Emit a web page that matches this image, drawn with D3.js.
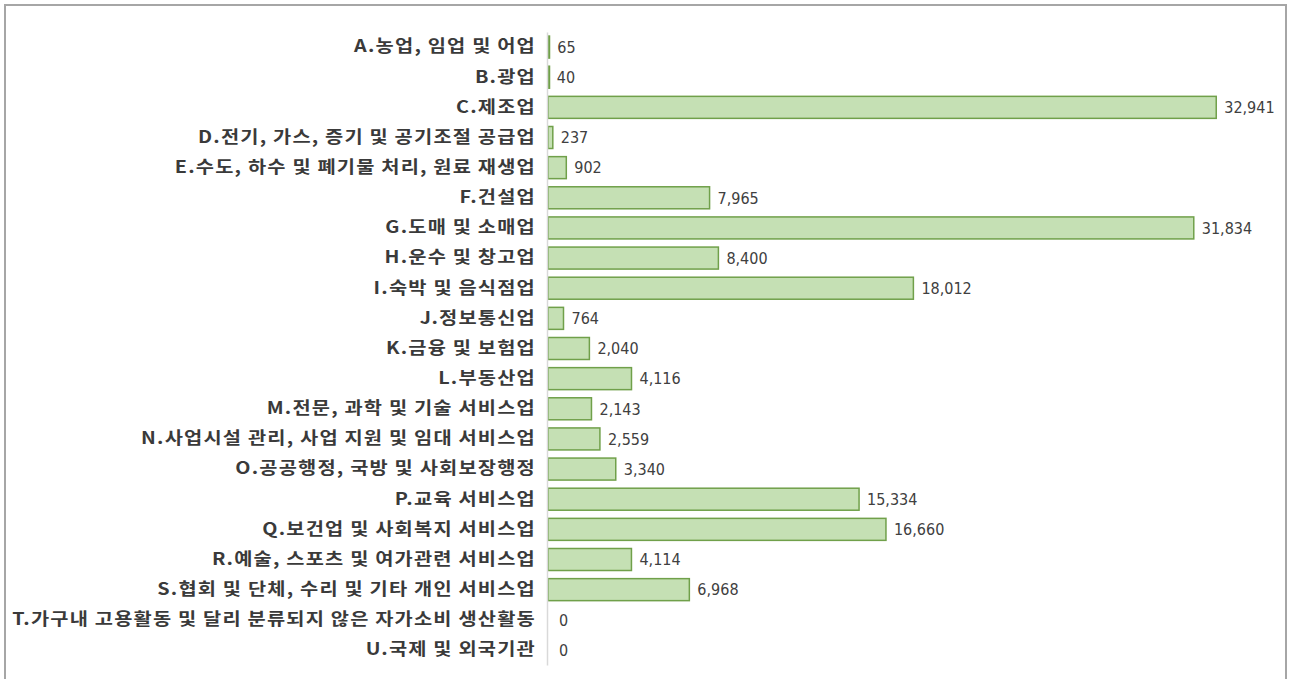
<!DOCTYPE html>
<html><head><meta charset="utf-8">
<script src="https://cdn.jsdelivr.net/npm/d3@7"></script>
<style>body{margin:0;background:#fff;}svg{display:block;}</style>
</head><body>
<svg id="c" width="1289" height="679"></svg>
<script>
const categories = [
 "A.농업, 임업 및 어업","B.광업","C.제조업","D.전기, 가스, 증기 및 공기조절 공급업",
 "E.수도, 하수 및 폐기물 처리, 원료 재생업","F.건설업","G.도매 및 소매업","H.운수 및 창고업",
 "I.숙박 및 음식점업","J.정보통신업","K.금융 및 보험업","L.부동산업",
 "M.전문, 과학 및 기술 서비스업","N.사업시설 관리, 사업 지원 및 임대 서비스업",
 "O.공공행정, 국방 및 사회보장행정","P.교육 서비스업","Q.보건업 및 사회복지 서비스업",
 "R.예술, 스포츠 및 여가관련 서비스업","S.협회 및 단체, 수리 및 기타 개인 서비스업",
 "T.가구내 고용활동 및 달리 분류되지 않은 자가소비 생산활동","U.국제 및 외국기관"];
const values = [65,40,32941,237,902,7965,31834,8400,18012,764,2040,4116,2143,2559,3340,15334,16660,4114,6968,0,0];

const svg = d3.select("#c");
svg.append("rect").attr("x",5).attr("y",5).attr("width",1281).attr("height",690)
  .attr("fill","#fff").attr("stroke","#a6a6a6").attr("stroke-width",2);

const data = categories.map((c,i)=>({c, v: values[i]}));
const x = d3.scaleLinear().domain([0,35000]).range([548,1258]);
const y = d3.scaleBand().domain(categories).range([32,665]).paddingInner(0.27).paddingOuter(0.135);

svg.selectAll("rect.bar").data(data).join("rect").attr("class","bar")
  .attr("x", x(0)).attr("y", d=>y(d.c))
  .attr("width", d=> d.v>0 ? Math.max(x(d.v)-x(0),1.5) : 0)
  .attr("height", y.bandwidth())
  .attr("fill","#c5e0b4").attr("stroke","#70a04a").attr("stroke-width",1.5)
  .style("display", d=> d.v>0 ? null : "none");

const ax = svg.append("g").attr("transform",`translate(${x(0)-1},0)`)
  .call(d3.axisLeft(y).tickSize(0).tickPadding(11));
ax.select(".domain").attr("stroke","#d9d9d9").attr("stroke-width",1.5);
ax.selectAll("text").attr("font-family","'Noto Sans CJK KR', sans-serif")
  .attr("font-weight","bold").attr("font-size","16.5px").attr("fill","#3a3a3a")
  .attr("letter-spacing","1px");

let lw = 0;
ax.selectAll("text").each(function(){ const w=this.getComputedTextLength(); if(w>lw){lw=w;} });
const sx = 524 / lw;
ax.selectAll("text").attr("x",0).attr("transform",`translate(-11,0) scale(${sx},1)`);

svg.selectAll("text.val").data(data).join("text").attr("class","val")
  .attr("x", d=> (d.v>0 ? x(d.v) + 8 : x(0) + 11))
  .attr("y", d=> y(d.c)+y.bandwidth()/2)
  .attr("dy","0.36em")
  .attr("font-family","'DejaVu Sans Condensed','DejaVu Sans', sans-serif")
  .attr("font-size","16px").attr("fill","#404040")
  .text(d=> d3.format(",")(d.v));
</script>
</body></html>
